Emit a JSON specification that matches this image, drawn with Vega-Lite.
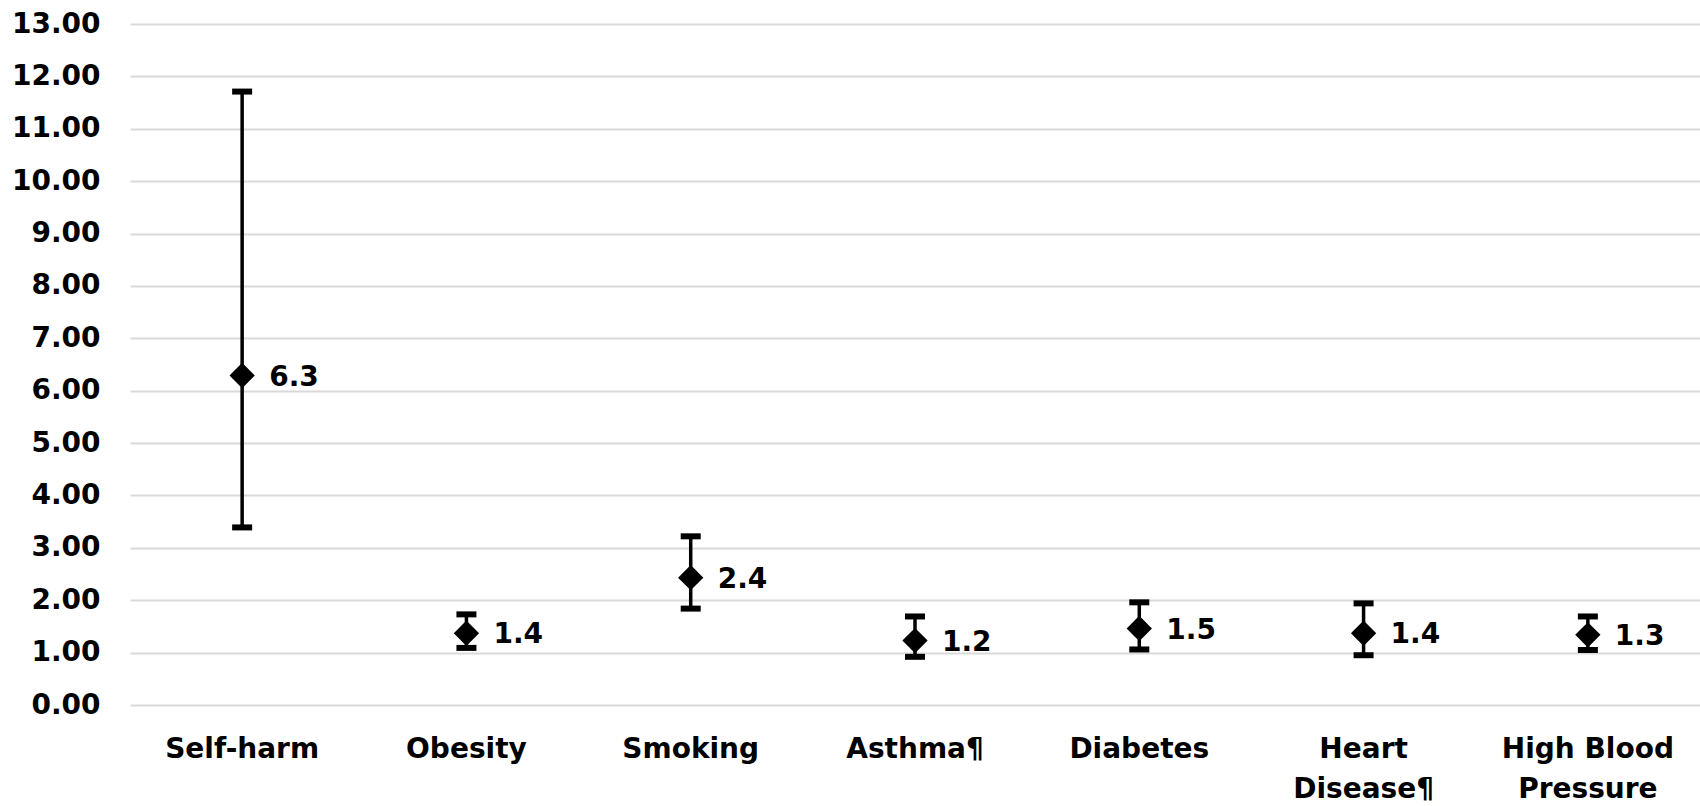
{
  "$schema": "https://vega.github.io/schema/vega-lite/v6.json",
  "width": 1570,
  "height": 681,
  "autosize": {"type": "none"},
  "padding": {"left": 130, "top": 24, "right": 0, "bottom": 101},
  "background": "white",
  "config": {
    "view": {"stroke": null},
    "font": "DejaVu Sans",
    "axis": {"labelFont": "DejaVu Sans", "labelFontWeight": "bold", "labelFontSize": 28, "labelColor": "#000000"}
  },
  "data": {
    "values": [
      {"category": "Self-harm", "est": 6.29, "lower": 3.39, "upper": 11.71},
      {"category": "Obesity", "est": 1.37, "lower": 1.09, "upper": 1.73},
      {"category": "Smoking", "est": 2.43, "lower": 1.84, "upper": 3.22},
      {"category": "Asthma¶", "est": 1.23, "lower": 0.92, "upper": 1.69},
      {"category": "Diabetes", "est": 1.46, "lower": 1.06, "upper": 1.96},
      {"category": "Heart Disease¶", "est": 1.37, "lower": 0.95, "upper": 1.94},
      {"category": "High Blood Pressure", "est": 1.34, "lower": 1.05, "upper": 1.69}
    ]
  },
  "encoding": {
    "x": {
      "field": "category",
      "type": "nominal",
      "sort": null,
      "scale": {"paddingInner": 0, "paddingOuter": 0},
      "axis": {
        "title": null,
        "labelAngle": 0,
        "domain": false,
        "ticks": false,
        "tickSize": 0,
        "labelPadding": 30,
        "labelLineHeight": 40,
        "labelBaseline": "top",
        "labelExpr": "datum.label == 'Heart Disease¶' ? ['Heart', 'Disease¶'] : datum.label == 'High Blood Pressure' ? ['High Blood', 'Pressure'] : datum.label"
      }
    }
  },
  "layer": [
    {
      "mark": {"type": "rule", "color": "#000000", "strokeWidth": 3.5},
      "encoding": {
        "y": {
          "field": "lower",
          "type": "quantitative",
          "scale": {"domain": [0, 13], "nice": false},
          "axis": {
            "title": null,
            "values": [0, 1, 2, 3, 4, 5, 6, 7, 8, 9, 10, 11, 12, 13],
            "format": ".2f",
            "domain": false,
            "ticks": false,
            "tickSize": 0,
            "labelPadding": 30,
            "grid": true,
            "gridColor": "#d9d9d9",
            "gridWidth": 2
          }
        },
        "y2": {"field": "upper"}
      }
    },
    {
      "mark": {"type": "tick", "color": "#000000", "thickness": 6, "size": 20, "opacity": 1},
      "encoding": {"y": {"field": "upper", "type": "quantitative"}}
    },
    {
      "mark": {"type": "tick", "color": "#000000", "thickness": 6, "size": 20, "opacity": 1},
      "encoding": {"y": {"field": "lower", "type": "quantitative"}}
    },
    {
      "mark": {"type": "point", "shape": "diamond", "filled": true, "color": "#000000", "size": 640, "opacity": 1},
      "encoding": {"y": {"field": "est", "type": "quantitative"}}
    },
    {
      "mark": {"type": "text", "align": "left", "baseline": "middle", "dx": 27, "dy": 2, "fontSize": 28, "fontWeight": "bold", "color": "#000000", "font": "DejaVu Sans"},
      "encoding": {
        "y": {"field": "est", "type": "quantitative"},
        "text": {"field": "est", "type": "quantitative", "format": ".1f"}
      }
    }
  ]
}
